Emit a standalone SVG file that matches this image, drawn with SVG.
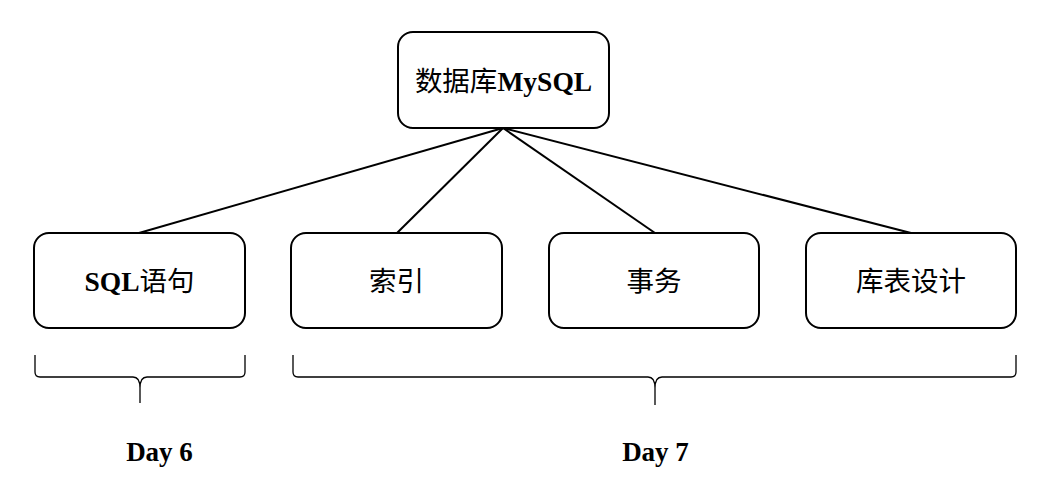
<svg xmlns="http://www.w3.org/2000/svg" width="1053" height="500" viewBox="0 0 1053 500">
<style>
.box{fill:#fff;stroke:#000;stroke-width:2}
.lbl{font-family:"Liberation Serif","Noto Sans CJK SC",serif;font-size:27.5px;text-anchor:middle;dominant-baseline:central}
.b{font-weight:bold}
.conn line{stroke:#000;stroke-width:2}
.brace{fill:none;stroke:#000;stroke-width:1.3}
</style>
<rect width="1053" height="500" fill="#fff"/>
<g class="conn">
<line x1="503" y1="128" x2="139" y2="233"/>
<line x1="503" y1="128" x2="397" y2="233"/>
<line x1="503" y1="128" x2="655" y2="233"/>
<line x1="503" y1="128" x2="911" y2="233"/>
</g>
<g id="root"><rect class="box" x="398" y="32" width="211" height="96" rx="15"/><text class="lbl" x="503.5" y="81"><tspan>数据库</tspan><tspan class="b">MySQL</tspan></text></g>
<g id="sql"><rect class="box" x="34" y="233" width="211" height="95" rx="15"/><text class="lbl" x="139.5" y="281"><tspan class="b">SQL</tspan><tspan>语句</tspan></text></g>
<g id="index"><rect class="box" x="291" y="233" width="211" height="95" rx="15"/><text class="lbl" x="396.5" y="281">索引</text></g>
<g id="tx"><rect class="box" x="549" y="233" width="210" height="95" rx="15"/><text class="lbl" x="654" y="281">事务</text></g>
<g id="design"><rect class="box" x="806" y="233" width="210" height="95" rx="15"/><text class="lbl" x="911" y="281">库表设计</text></g>
<g id="brace6"><path class="brace" d="M35 355 V372 Q35 377 40 377 H133 Q140 377 140 388 V403 M140 388 Q140 377 147 377 H240 Q245 377 245 372 V355"/><text class="lbl b" x="159.5" y="452" style="font-size:27px">Day 6</text></g>
<g id="brace7"><path class="brace" d="M293 355 V372 Q293 377 298 377 H648 Q655 377 655 388 V405 M655 388 Q655 377 662 377 H1011 Q1016 377 1016 372 V355"/><text class="lbl b" x="655.5" y="452" style="font-size:27px">Day 7</text></g>
</svg>
